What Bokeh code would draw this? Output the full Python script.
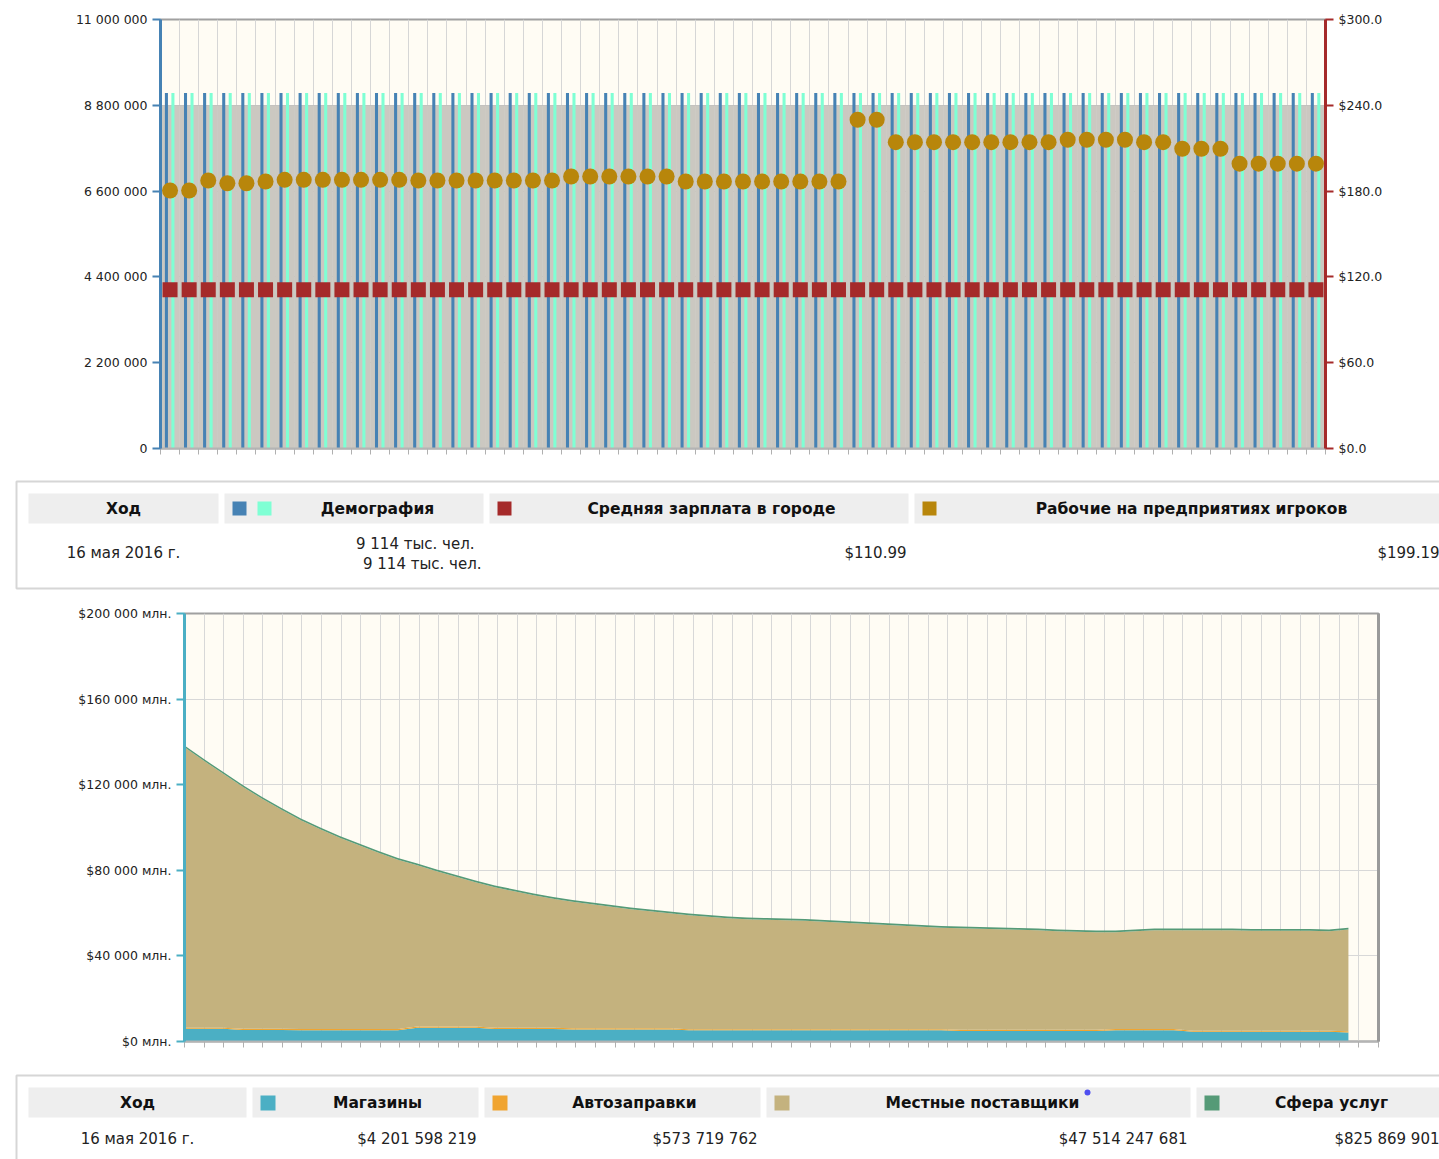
from bokeh.plotting import figure
from bokeh.models import Range1d, LinearAxis, FixedTicker, ColumnDataSource, CustomJSTickFormatter
from bokeh.transform import dodge
from bokeh.core.properties import value
from bokeh.embed import file_html
from bokeh.resources import INLINE

FONT = "DejaVu Sans"

# ---------------- data: top chart (61 turns) ----------------
turns = list(range(61))
demo_blue = [9114000] * 61          # Демография (blue)
demo_aqua = [9114000] * 61          # Демография (aquamarine)
salary = [110.99] * 61              # Средняя зарплата в городе, $
workers = [180.4, 180.4, 187.4, 185.5, 185.5, 186.7, 187.9, 187.9, 187.9, 187.9,
           187.9, 187.9, 187.9, 187.4, 187.4, 187.4, 187.4, 187.4, 187.4, 187.4,
           187.4, 190.2, 190.2, 190.2, 190.2, 190.2, 190.2, 186.7, 186.7, 186.7,
           186.7, 186.7, 186.7, 186.7, 186.7, 186.7, 229.9, 229.9, 214.2, 214.2,
           214.2, 214.2, 214.2, 214.2, 214.2, 214.2, 214.2, 215.9, 215.9, 215.9,
           215.9, 214.2, 214.2, 209.6, 209.6, 209.6, 199.19, 199.19, 199.19, 199.19,
           199.19]
left_ticks = [0, 2200000, 4400000, 6600000, 8800000, 11000000]
left_labels = ["0", "2 200 000", "4 400 000", "6 600 000", "8 800 000", "11 000 000"]
right_ticks = [0, 60, 120, 180, 240, 300]
right_labels = ["$0.0", "$60.0", "$120.0", "$180.0", "$240.0", "$300.0"]

# ---------------- data: bottom chart (млн $) ----------------
shops = [5900, 5900, 5900, 5400, 5400, 5400, 5300, 5300, 5300, 5300,
         5300, 5300, 6400, 6400, 6400, 6400, 5800, 5800, 5800, 5800,
         5600, 5600, 5600, 5600, 5600, 5600, 5200, 5200, 5200, 5200,
         5200, 5200, 5200, 5200, 5200, 5200, 5200, 5200, 5200, 5200,
         4900, 4900, 4900, 4900, 4900, 4900, 4900, 4900, 5300, 5300,
         5300, 5300, 4500, 4500, 4500, 4500, 4500, 4500, 4500, 4500, 4202]
gas = [574, 574, 574, 574, 574, 574, 574, 574, 574, 574,
       574, 574, 574, 574, 574, 574, 574, 574, 574, 574,
       574, 574, 574, 574, 574, 574, 574, 574, 574, 574,
       574, 574, 574, 574, 574, 574, 574, 574, 574, 574,
       574, 574, 574, 574, 574, 574, 574, 574, 574, 574,
       574, 574, 574, 574, 574, 574, 574, 574, 574, 574, 574]
local = [131018, 124663, 118635, 113060, 107452, 102312, 97506, 93300, 89328, 85823,
         82319, 79048, 75378, 72574, 70003, 67434, 65697, 63828, 61959, 60323,
         59121, 57953, 56785, 55617, 54682, 53748, 53213, 52512, 51811, 51344,
         51110, 50877, 50643, 50176, 49708, 49241, 48774, 48306, 47839, 47372,
         47438, 47205, 46971, 46737, 46504, 46036, 45803, 45569, 45169, 45636,
         46104, 46104, 46904, 46904, 46904, 46670, 46670, 46670, 46670, 46436, 47514]
service = [826, 826, 826, 826, 826, 826, 826, 826, 826, 826,
           826, 826, 826, 826, 826, 826, 826, 826, 826, 826,
           826, 826, 826, 826, 826, 826, 826, 826, 826, 826,
           826, 826, 826, 826, 826, 826, 826, 826, 826, 826,
           826, 826, 826, 826, 826, 826, 826, 826, 826, 826,
           826, 826, 826, 826, 826, 826, 826, 826, 826, 826, 826]
money_ticks = [0, 40000, 80000, 120000, 160000, 200000]
money_labels = ["$0 млн.", "$40 000 млн.", "$80 000 млн.", "$120 000 млн.", "$160 000 млн.", "$200 000 млн."]

# ---------------- table texts ----------------
t1_headers = ["Ход", "Демография", "Средняя зарплата в городе", "Рабочие на предприятиях игроков"]
t1_date = "16 мая 2016 г."
t1_demo = ["9 114 тыс. чел.", "9 114 тыс. чел."]
t1_salary = "$110.99"
t1_workers = "$199.19"
t2_headers = ["Ход", "Магазины", "Автозаправки", "Местные поставщики", "Сфера услуг"]
t2_values = ["$4 201 598 219", "$573 719 762", "$47 514 247 681", "$825 869 901"]

C_BLUE, C_AQUA, C_RED, C_GOLD = "#4682b4", "#7fffd4", "#a52a2a", "#b8860b"
C_TEAL, C_ORANGE, C_TAN, C_GREEN = "#4bafc4", "#f0a430", "#c4b27e", "#559a77"
W = 1439


def style_axis(ax, color):
    ax.axis_line_color = color
    ax.axis_line_width = 3
    ax.major_tick_line_color = color
    ax.major_tick_line_width = 2
    ax.major_tick_out = 8
    ax.major_tick_in = 0
    ax.minor_tick_line_color = None
    ax.major_label_text_font = FONT
    ax.major_label_text_font_size = "12.5px"
    ax.major_label_text_color = "#222222"
    ax.major_label_standoff = 5


def style_xaxis(ax, ticks):
    ax.ticker = FixedTicker(ticks=ticks)
    ax.formatter = CustomJSTickFormatter(code="return ''")
    ax.axis_line_color = "#b4b4b4"
    ax.axis_line_width = 2
    ax.major_tick_line_color = "#b0b0b0"
    ax.major_tick_line_width = 1
    ax.major_tick_out = 6
    ax.major_tick_in = 0
    ax.minor_tick_line_color = None
    ax.major_label_text_font_size = "1px"


# ================= top chart =================
src1 = ColumnDataSource(dict(turn=turns, blue=demo_blue, aqua=demo_aqua,
                             shadow=[v * 0.965 for v in demo_blue],
                             salary=salary, workers=workers))
p1 = figure(width=W, height=476, x_range=Range1d(-0.5, 60.5), y_range=Range1d(0, 11000000),
            output_backend="svg", toolbar_location=None,
            min_border_left=160, min_border_right=114, min_border_top=19, min_border_bottom=28,
            background_fill_color="#fffcf4", border_fill_color="white",
            outline_line_color="#a0a0a0", outline_line_width=2)
p1.extra_y_ranges = {"usd": Range1d(0, 300)}
bounds1 = [k - 0.5 for k in range(62)]
p1.xgrid.ticker = FixedTicker(ticks=bounds1)
p1.xgrid.grid_line_color = "#d6d6d6"
p1.ygrid.ticker = FixedTicker(ticks=left_ticks)
p1.ygrid.grid_line_color = "#bcbcbc"

p1.vbar(x="turn", top="shadow", width=1.0, source=src1, fill_color="#cbc8c1", line_color=None)
p1.vbar(x=dodge("turn", -0.19, range=p1.x_range), top="blue", width=0.16, source=src1,
        fill_color=C_BLUE, line_color=None)
p1.vbar(x=dodge("turn", 0.15, range=p1.x_range), top="aqua", width=0.16, source=src1,
        fill_color=C_AQUA, line_color=None)
p1.scatter(x="turn", y="salary", source=src1, y_range_name="usd", marker="square",
           size=15, fill_color=C_RED, line_color=None)
p1.scatter(x="turn", y="workers", source=src1, y_range_name="usd", marker="circle",
           size=16, fill_color=C_GOLD, line_color=None)

ly = p1.yaxis[0]
ly.ticker = FixedTicker(ticks=left_ticks)
ly.major_label_overrides = dict(zip(left_ticks, left_labels))
style_axis(ly, C_BLUE)
ry = LinearAxis(y_range_name="usd", ticker=FixedTicker(ticks=right_ticks))
ry.major_label_overrides = dict(zip(right_ticks, right_labels))
style_axis(ry, C_RED)
p1.add_layout(ry, "right")
style_xaxis(p1.xaxis[0], bounds1)

# ================= bottom chart =================
src3 = ColumnDataSource(dict(turn=turns, shops=shops, gas=gas, local=local, service=service))
XMAX = 61.55
p3 = figure(width=W, height=474, x_range=Range1d(0, XMAX), y_range=Range1d(0, 200000),
            output_backend="svg", toolbar_location=None,
            min_border_left=184, min_border_right=61, min_border_top=19, min_border_bottom=27,
            background_fill_color="#fffcf4", border_fill_color="white",
            outline_line_color="#a0a0a0", outline_line_width=2)
grid3 = [k * XMAX / 61 for k in range(62)]
p3.xgrid.ticker = FixedTicker(ticks=grid3)
p3.xgrid.grid_line_color = "#d8d8d8"
p3.ygrid.ticker = FixedTicker(ticks=money_ticks)
p3.ygrid.grid_line_color = "#d8d8d8"
p3.varea_stack(stackers=["shops", "gas", "local", "service"], x="turn", source=src3,
               color=[C_TEAL, C_ORANGE, C_TAN, C_GREEN])
ly3 = p3.yaxis[0]
ly3.ticker = FixedTicker(ticks=money_ticks)
ly3.major_label_overrides = dict(zip(money_ticks, money_labels))
style_axis(ly3, C_TEAL)
rb = LinearAxis(ticker=FixedTicker(ticks=[]))
rb.axis_line_color = "#9a9a9a"
rb.axis_line_width = 3
rb.major_tick_line_color = None
rb.minor_tick_line_color = None
rb.major_label_text_font_size = "1px"
p3.add_layout(rb, "right")
style_xaxis(p3.xaxis[0], grid3)


# ================= tables =================
def table_fig(h, top):
    t = figure(width=W, height=h, x_range=Range1d(0, W), y_range=Range1d(top + h, top),
               output_backend="svg", toolbar_location=None, min_border=0,
               x_axis_type=None, y_axis_type=None, outline_line_color=None,
               background_fill_color="white", border_fill_color="white")
    t.xgrid.visible = False
    t.ygrid.visible = False
    return t


hdr = dict(text_font=value(FONT), text_font_style="bold", text_font_size="15.5px",
           text_baseline="middle", text_color="#111111")
cell = dict(text_font=value(FONT), text_font_size="15px", text_baseline="middle",
            text_color="#222222")

p2 = table_fig(118, 476)
p2.quad(left=16, right=1460, top=481, bottom=588, fill_color=None, line_color="#d6d6d6", line_width=2)
p2.quad(left=[28, 224, 489, 914], right=[218, 483, 908, 1460], top=493, bottom=523,
        fill_color="#eeeeee", line_color=None)
p2.quad(left=[232, 257, 497, 922], right=[246, 271, 511, 936], top=501, bottom=515,
        fill_color=[C_BLUE, C_AQUA, C_RED, C_GOLD], line_color=None)
p2.text(x=[123, 377, 711, 1191], y=[508] * 4, text=t1_headers, text_align="center", **hdr)
p2.text(x=[123], y=[552], text=[t1_date], text_align="center", **cell)
p2.text(x=[474, 481], y=[543, 563], text=t1_demo, text_align="right", **cell)
p2.text(x=[906, 1439], y=[552, 552], text=[t1_salary, t1_workers], text_align="right", **cell)

p4 = table_fig(91, 1068)
p4.quad(left=16, right=1460, top=1075, bottom=1200, fill_color=None, line_color="#d6d6d6", line_width=2)
p4.quad(left=[28, 252, 484, 766, 1196], right=[246, 478, 760, 1190, 1460], top=1087, bottom=1117,
        fill_color="#eeeeee", line_color=None)
p4.quad(left=[260, 492, 774, 1204], right=[275, 507, 789, 1219], top=1095, bottom=1110,
        fill_color=[C_TEAL, C_ORANGE, C_TAN, C_GREEN], line_color=None)
p4.text(x=[137, 377, 634, 982, 1331], y=[1102] * 5, text=t2_headers, text_align="center", **hdr)
p4.scatter(x=[1087], y=[1092], size=6, fill_color="#4f4ff0", line_color=None)
p4.text(x=[137], y=[1138], text=[t1_date], text_align="center", **cell)
p4.text(x=[476, 757, 1187, 1439], y=[1138] * 4, text=t2_values, text_align="right", **cell)

open("out.html", "w").write(file_html([p1, p2, p3, p4], INLINE))
